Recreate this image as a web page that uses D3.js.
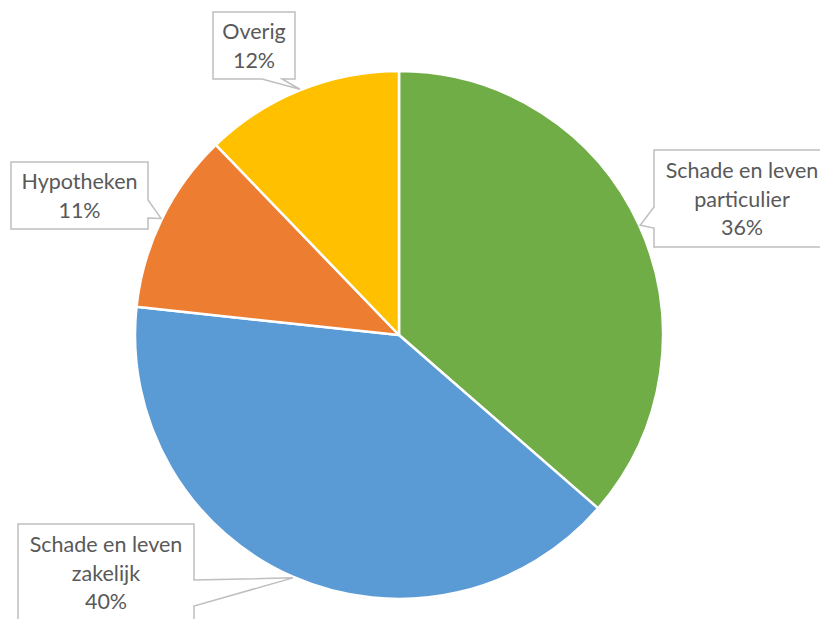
<!DOCTYPE html>
<html><head><meta charset="utf-8">
<script src="https://cdn.jsdelivr.net/npm/d3@7"></script>
<style>
html,body{margin:0;padding:0;background:#fff;overflow:hidden}
svg{display:block}
</style></head>
<body>
<svg id="chart" width="820" height="619"></svg>
<script>
const categories = ["Schade en leven particulier", "Schade en leven zakelijk", "Hypotheken", "Overig"];
const values = [36.4, 40.3, 11.1, 12.2];
const labelLines = [["Schade en leven", "particulier"], ["Schade en leven", "zakelijk"], ["Hypotheken"], ["Overig"]];
const colors = ["#70AD47", "#5B9BD5", "#ED7D31", "#FFC000"];

// label box layout: x,y,w,h and the side where the wedge pointer starts, with its base range
const boxes = [
  {x: 654, y: 150, w: 176, h: 97, side: "left", a: 207, b: 228},
  {x: 18, y: 524, w: 176, h: 97, side: "right", a: 580, b: 606},
  {x: 11, y: 162, w: 137, h: 67, side: "right", a: 200, b: 218},
  {x: 213, y: 12, w: 82, h: 67, side: "bottom", a: 262, b: 282}
];

const W = 820, H = 619;
const cx = 399, cy = 335, R = 264;
const svg = d3.select("#chart");
const total = d3.sum(values);

const pie = d3.pie().sort(null).value(d => d)(values);
const arc = d3.arc().innerRadius(0).outerRadius(R);

const g = svg.append("g").attr("transform", `translate(${cx},${cy})`);
g.selectAll("path.slice").data(pie).enter().append("path")
  .attr("class", "slice")
  .attr("d", arc)
  .attr("fill", (d, i) => colors[i])
  .attr("stroke", "#fff")
  .attr("stroke-width", 2.5)
  .attr("stroke-linejoin", "round");

const fmt = d3.format(".0%");
const labels = svg.append("g");
pie.forEach((d, i) => {
  const b = boxes[i];
  const mid = (d.startAngle + d.endAngle) / 2;
  const tx = cx + Math.sin(mid) * (R + 1);
  const ty = cy - Math.cos(mid) * (R + 1);
  const x0 = b.x, y0 = b.y, x1 = b.x + b.w, y1 = b.y + b.h;
  let p;
  if (b.side === "left") {
    p = `M${x0},${y0} L${x1},${y0} L${x1},${y1} L${x0},${y1} L${x0},${b.b} L${tx},${ty} L${x0},${b.a} Z`;
  } else if (b.side === "right") {
    p = `M${x0},${y0} L${x1},${y0} L${x1},${b.a} L${tx},${ty} L${x1},${b.b} L${x1},${y1} L${x0},${y1} Z`;
  } else {
    p = `M${x0},${y0} L${x1},${y0} L${x1},${y1} L${b.b},${y1} L${tx},${ty} L${b.a},${y1} L${x0},${y1} Z`;
  }
  labels.append("path").attr("d", p)
    .attr("fill", "#fff").attr("stroke", "#BFBFBF").attr("stroke-width", 1.5)
    .attr("stroke-linejoin", "miter");
  const lines = labelLines[i].concat([fmt(values[i] / total)]);
  const t = labels.append("text")
    .attr("text-anchor", "middle")
    .attr("font-family", "Lato, 'Open Sans', sans-serif")
    .attr("font-size", 21.5)
    .attr("fill", "#595959");
  const lh = 28.5;
  const startY = b.y + b.h / 2 - (lines.length - 1) * lh / 2 + 8;
  lines.forEach((ln, k) => {
    t.append("tspan").attr("x", b.x + b.w / 2).attr("y", startY + k * lh).text(ln);
  });
});
</script>
</body></html>
